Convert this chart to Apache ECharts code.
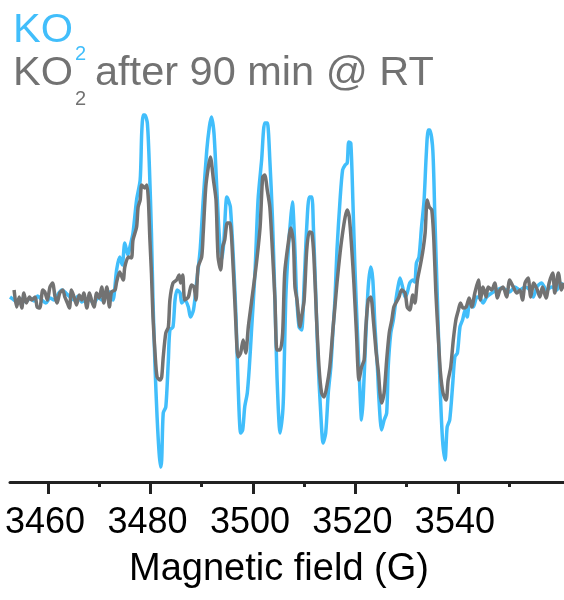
<!DOCTYPE html>
<html>
<head>
<meta charset="utf-8">
<script src="https://cdn.jsdelivr.net/npm/echarts@6/dist/echarts.min.js"></script>
<style>
  html, body { margin: 0; padding: 0; background: #fff; }
  #chart { width: 564px; height: 600px; }
</style>
</head>
<body>
<div id="chart"></div>
<script>
// ---- Data (magnetic field in G, EPR signal in arbitrary units) ----
const fieldBlue = [3452.6,3453.4,3454.1,3454.9,3455.7,3456.5,3457.3,3458.0,3458.8,3459.6,3460.4,3461.2,3462.0,3462.7,3463.5,3464.3,3465.1,3465.9,3466.6,3467.4,3468.2,3469.0,3469.8,3470.5,3471.3,3472.1,3472.7,3473.4,3474.0,3474.5,3475.0,3475.6,3476.0,3476.6,3477.3,3478.0,3478.3,3478.6,3478.9,3479.4,3479.8,3480.2,3480.5,3480.9,3481.3,3481.7,3482.0,3482.2,3482.5,3483.0,3483.5,3483.8,3484.4,3484.8,3485.2,3485.8,3486.1,3486.7,3487.4,3487.8,3488.4,3489.0,3489.7,3490.3,3491.0,3491.5,3491.9,3492.4,3492.9,3493.4,3493.9,3494.3,3494.9,3495.2,3495.6,3496.2,3496.7,3497.1,3497.6,3498.0,3498.4,3498.9,3499.3,3499.7,3500.4,3501.0,3501.7,3502.3,3502.8,3503.3,3503.8,3504.3,3504.7,3505.3,3505.8,3506.0,3506.4,3506.9,3507.4,3507.7,3508.2,3508.5,3509.0,3509.5,3510.0,3510.5,3511.0,3511.5,3511.8,3512.3,3512.7,3513.2,3513.7,3514.2,3514.7,3515.2,3515.6,3516.0,3516.4,3517.0,3517.5,3518.0,3518.4,3518.7,3519.1,3519.5,3519.9,3520.4,3520.9,3521.2,3521.5,3522.0,3522.5,3523.0,3523.4,3523.8,3524.3,3524.6,3525.1,3525.6,3526.1,3526.4,3526.9,3527.4,3527.9,3528.3,3528.7,3529.2,3529.7,3530.1,3530.6,3531.2,3531.6,3531.9,3532.4,3532.9,3533.4,3533.8,3534.2,3534.5,3535.1,3535.5,3536.0,3536.5,3537.0,3537.5,3537.9,3538.4,3539.0,3539.4,3539.9,3540.4,3540.9,3541.4,3541.8,3542.3,3543.0,3543.7,3544.3,3544.9,3545.6,3546.6,3547.6,3548.5,3549.5,3550.1,3551.1,3552.1,3553.1,3554.0,3554.7,3555.4,3556.3,3557.3,3558.3,3559.3,3559.9,3560.7];
const signalBlue = [-2,-5,-8,-4,-7,-3,-6,-1,-5,-8,-3,-5,1,5,2,-2,-5,-1,-7,-4,-5,-8,-2,-5,0,3,-5,25,38,30,52,40,48,62,95,115,162,180,180,172,128,62,-5,-72,-122,-158,-172,-165,-118,-112,-65,-35,-32,-5,5,2,-8,-5,-12,-22,-15,12,45,95,145,168,178,162,112,62,35,52,98,95,88,35,-22,-88,-138,-135,-112,-98,-72,-38,22,95,135,172,172,135,78,-5,-82,-138,-118,-95,-5,45,78,93,45,2,-32,-35,12,68,98,98,68,-5,-65,-115,-148,-138,-98,-72,-38,-5,45,95,125,130,132,153,152,95,28,-38,-98,-125,-105,-45,8,28,15,-30,-73,-105,-135,-125,-118,-72,-38,-25,-5,8,17,8,-2,2,12,15,13,32,38,68,95,138,165,165,145,78,-5,-88,-145,-165,-132,-125,-88,-62,-58,-32,-25,-15,-22,-8,-12,-2,-3,-8,-2,2,5,7,5,3,8,5,8,5,-2,8,12,5,8,5,12,10];

const fieldGray = [3453.4,3453.9,3454.4,3454.9,3455.3,3455.8,3456.4,3456.8,3457.5,3457.9,3458.4,3459.0,3459.4,3459.9,3460.4,3460.9,3461.4,3461.8,3462.3,3462.9,3463.3,3463.8,3464.2,3464.6,3465.1,3465.6,3466.1,3466.6,3467.0,3467.6,3468.1,3468.5,3469.0,3469.5,3470.0,3470.5,3470.9,3471.5,3472.0,3472.4,3473.1,3473.4,3474.0,3474.7,3475.0,3475.7,3476.3,3476.6,3477.3,3477.6,3478.0,3478.3,3478.9,3479.3,3479.6,3479.9,3480.2,3480.5,3480.9,3481.3,3481.9,3482.2,3482.5,3483.0,3483.5,3483.8,3484.4,3485.1,3485.6,3485.9,3486.3,3486.7,3487.4,3488.0,3488.5,3488.9,3489.3,3490.0,3490.3,3490.8,3491.3,3491.7,3492.3,3492.8,3493.2,3493.7,3494.1,3494.5,3495.0,3495.5,3496.2,3496.7,3497.1,3497.6,3498.1,3498.6,3499.1,3499.7,3500.6,3501.4,3501.9,3502.3,3502.8,3503.3,3503.8,3504.3,3504.7,3505.3,3505.8,3506.2,3506.9,3507.4,3507.9,3508.2,3508.6,3509.2,3509.5,3510.0,3510.5,3511.0,3511.5,3511.9,3512.4,3512.9,3513.4,3513.9,3514.4,3515.0,3515.6,3516.0,3516.4,3517.0,3517.5,3518.0,3518.4,3518.8,3519.3,3519.7,3520.2,3520.7,3521.2,3521.7,3522.0,3522.5,3523.0,3523.5,3524.0,3524.5,3524.8,3525.1,3525.6,3526.1,3526.6,3527.1,3527.5,3528.0,3528.5,3529.0,3529.7,3530.1,3530.6,3531.2,3531.6,3532.1,3532.6,3533.1,3533.6,3534.0,3534.4,3534.9,3535.3,3535.7,3536.2,3536.6,3537.1,3537.7,3538.1,3538.6,3539.1,3539.6,3540.1,3540.5,3541.0,3541.6,3542.2,3542.7,3543.3,3544.0,3544.4,3544.9,3545.5,3545.9,3546.6,3547.2,3547.7,3548.2,3548.8,3549.5,3550.1,3550.8,3551.5,3552.1,3552.6,3553.1,3553.7,3554.2,3554.8,3555.5,3556.0,3556.5,3557.2,3557.8,3558.5,3558.9,3559.6,3560.2,3560.7];
const signalGray = [5,-12,-2,-13,2,-8,-2,-5,-2,-12,-13,5,3,-5,8,12,-2,-8,2,5,-2,-8,-13,5,-2,-10,0,-5,2,-13,2,-5,-12,2,-3,8,-8,8,-12,3,5,13,23,15,28,38,37,55,68,88,95,110,107,110,95,55,22,-22,-58,-82,-85,-82,-62,-38,-32,-5,12,15,20,12,20,-5,-2,10,8,-5,28,38,62,108,128,138,115,95,38,25,48,55,72,72,22,-32,-62,-58,-45,-58,-32,-8,28,68,118,120,105,88,45,-5,-55,-55,-38,22,52,67,52,8,-5,-32,-22,-5,45,63,62,38,-22,-72,-98,-102,-92,-72,-35,-12,12,42,62,78,85,78,45,12,-38,-85,-72,-65,-35,-5,-2,-25,-55,-78,-98,-108,-98,-65,-38,-25,-12,-7,-2,5,2,-12,-15,0,-8,15,28,42,62,95,88,85,55,2,-45,-78,-98,-105,-85,-72,-45,-25,-15,-8,-13,-12,-3,-12,2,15,-5,8,-2,8,5,12,-3,5,8,-2,15,8,2,5,-5,12,17,-2,12,5,-2,8,-3,12,22,2,22,5,12];

const majorTicks = [3460, 3480, 3500, 3520, 3540];
const minorTicks = [3470, 3490, 3510, 3530, 3550];
const fieldRange = [3452.6, 3560.7];
const signalRange = [-187, 195];
const seriesNames = ['KO2', 'KO2 after 90 min @ RT'];
const colors = ['#41BEFB', '#727272'];

const chart = echarts.init(document.getElementById('chart'), null, { renderer: 'canvas' });
const FONT = 'Liberation Sans, Arial, sans-serif';

const option = {
  animation: false,
  backgroundColor: '#ffffff',
  grid: { left: 10, right: 0, top: 100, bottom: 118, containLabel: false },
  xAxis: [
    {
      type: 'value', min: fieldRange[0], max: fieldRange[1],
      name: 'Magnetic field (G)', nameLocation: 'middle', nameGap: 69,
      nameTextStyle: { fontFamily: FONT, fontSize: 38, color: '#000', padding: [0, 16, 0, 0] },
      axisLine: { show: true, onZero: false, lineStyle: { color: '#222', width: 3 } },
      axisTick: { show: true, customValues: majorTicks, length: 12, lineStyle: { color: '#222', width: 3 } },
      axisLabel: { show: true, customValues: majorTicks, margin: 23, fontFamily: FONT, fontSize: 36, color: '#000', padding: [0, 6, 0, 0], formatter: v => String(v) },
      splitLine: { show: false }
    },
    {
      type: 'value', min: fieldRange[0], max: fieldRange[1], position: 'bottom',
      axisLine: { show: false, onZero: false },
      axisTick: { show: true, customValues: minorTicks, length: 5, lineStyle: { color: '#222', width: 3 } },
      axisLabel: { show: false },
      splitLine: { show: false }
    }
  ],
  yAxis: {
    type: 'value', min: signalRange[0], max: signalRange[1], show: false,
    splitLine: { show: false }
  },
  series: [
    {
      name: seriesNames[0], type: 'line', xAxisIndex: 0,
      data: fieldBlue.map((f, i) => [f, signalBlue[i]]),
      showSymbol: false, symbol: 'none', smooth: 0.25,
      lineStyle: { color: colors[0], width: 3.5, join: 'round' }, z: 2
    },
    {
      name: seriesNames[1], type: 'line', xAxisIndex: 0,
      data: fieldGray.map((f, i) => [f, signalGray[i]]),
      showSymbol: false, symbol: 'none', smooth: 0.25,
      lineStyle: { color: colors[1], width: 3.5, join: 'round' }, z: 3
    }
  ],
  graphic: [
    { type: 'text', left: 13, top: 10, style: { text: 'KO', font: '41.5px ' + FONT, fill: colors[0] } },
    { type: 'text', left: 75, top: 44, style: { text: '2', font: '20px ' + FONT, fill: colors[0] } },
    { type: 'text', left: 13, top: 53, style: { text: 'KO', font: '41.5px ' + FONT, fill: colors[1] } },
    { type: 'text', left: 75, top: 89, style: { text: '2', font: '20px ' + FONT, fill: colors[1] } },
    { type: 'text', left: 95, top: 53, style: { text: 'after 90 min @ RT', font: '41.5px ' + FONT, fill: colors[1] } }
  ]
};
chart.setOption(option);
</script>
</body>
</html>
